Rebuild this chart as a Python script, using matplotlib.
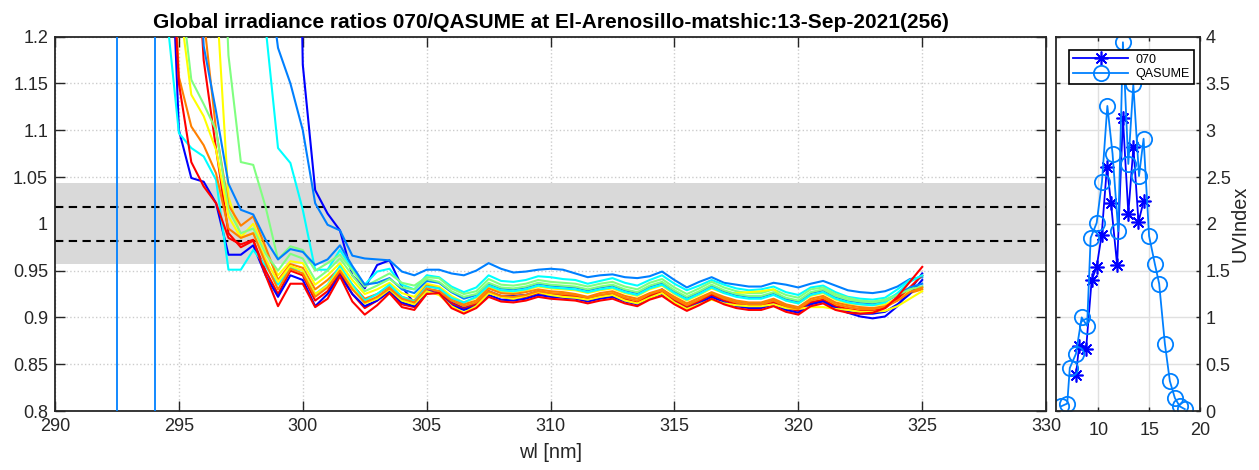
import numpy as np
import matplotlib
matplotlib.use('Agg')
import matplotlib.pyplot as plt

plt.rcParams['font.family'] = ['Liberation Sans', 'DejaVu Sans']

title = 'Global irradiance ratios 070/QASUME at El-Arenosillo-matshic:13-Sep-2021(256)'

# jet(7) colour order, cycled over the 14 ratio spectra
jet7 = ['#0000ff', '#0080ff', '#00ffff', '#80ff80', '#ffff00', '#ff8000', '#ff0000']

# first wavelength of each spectrum, then 0.5 nm steps up to 325 nm
first_wl = [299.5, 298.5, 298.5, 296.5, 296.5, 296.0, 295.5,
            294.5, 295.5, 294.5, 295.0, 295.0, 294.5, 294.5]

ratio_01 = [1.9, 1.17, 1.036, 1.011, 0.993, 0.945,
            0.931, 0.956, 0.961, 0.933, 0.915, 0.930, 0.928, 0.916, 0.910,
            0.915, 0.928, 0.923, 0.923, 0.924, 0.928, 0.925, 0.924, 0.923, 0.920,
            0.923, 0.925, 0.920, 0.914, 0.923, 0.930, 0.920, 0.912, 0.918, 0.926,
            0.920, 0.916, 0.914, 0.914, 0.918, 0.912, 0.909, 0.916, 0.918, 0.911,
            0.905, 0.901, 0.899, 0.901, 0.912, 0.929, 0.947]
ratio_02 = [1.29, 1.188, 1.15, 1.10, 1.022, 0.999, 0.993, 0.966,
            0.963, 0.962, 0.961, 0.949, 0.945, 0.951, 0.951, 0.947, 0.945,
            0.950, 0.958, 0.952, 0.948, 0.949, 0.951, 0.952, 0.951, 0.947, 0.943,
            0.945, 0.946, 0.943, 0.942, 0.944, 0.949, 0.940, 0.932, 0.938, 0.943,
            0.937, 0.935, 0.933, 0.933, 0.937, 0.935, 0.932, 0.936, 0.939, 0.934,
            0.929, 0.927, 0.926, 0.928, 0.933, 0.941, 0.943]
ratio_03 = [1.21, 1.081, 1.065, 1.015, 0.951, 0.951, 0.972, 0.952,
            0.935, 0.949, 0.952, 0.935, 0.930, 0.945, 0.943, 0.933, 0.927,
            0.932, 0.945, 0.939, 0.938, 0.940, 0.944, 0.943, 0.941, 0.940, 0.936,
            0.939, 0.942, 0.937, 0.934, 0.940, 0.945, 0.936, 0.929, 0.934, 0.940,
            0.935, 0.931, 0.929, 0.930, 0.933, 0.927, 0.924, 0.932, 0.934, 0.927,
            0.922, 0.920, 0.919, 0.921, 0.930, 0.940, 0.944]
ratio_04 = [1.5, 1.18, 1.066, 1.063, 1.018, 0.962, 0.976, 0.972, 0.950, 0.958, 0.967, 0.950,
            0.933, 0.940, 0.947, 0.937, 0.934, 0.943, 0.942, 0.931, 0.925,
            0.928, 0.941, 0.935, 0.934, 0.936, 0.940, 0.938, 0.937, 0.936, 0.933,
            0.936, 0.938, 0.933, 0.930, 0.937, 0.941, 0.932, 0.925, 0.931, 0.938,
            0.932, 0.928, 0.926, 0.926, 0.930, 0.924, 0.921, 0.930, 0.932, 0.925,
            0.921, 0.918, 0.917, 0.919, 0.925, 0.931, 0.933]
ratio_05 = [1.25, 1.029, 0.986, 1.0, 0.970, 0.945, 0.960, 0.958, 0.935, 0.945, 0.958, 0.940,
            0.925, 0.930, 0.937, 0.926, 0.922, 0.936, 0.933, 0.923, 0.916,
            0.921, 0.933, 0.928, 0.927, 0.929, 0.933, 0.931, 0.930, 0.929, 0.926,
            0.929, 0.931, 0.926, 0.923, 0.930, 0.934, 0.925, 0.918, 0.924, 0.931,
            0.926, 0.926, 0.927, 0.928, 0.930, 0.918, 0.915, 0.923, 0.926, 0.919,
            0.915, 0.914, 0.913, 0.914, 0.921, 0.929, 0.932]
ratio_06 = [1.22, 1.10, 1.02, 0.998, 1.008, 0.975, 0.94, 0.957, 0.953, 0.93, 0.94, 0.953, 0.935,
            0.920, 0.925, 0.933, 0.922, 0.918, 0.934, 0.931, 0.920, 0.914,
            0.918, 0.931, 0.926, 0.925, 0.927, 0.930, 0.928, 0.927, 0.925, 0.922,
            0.926, 0.928, 0.923, 0.920, 0.926, 0.930, 0.922, 0.915, 0.921, 0.927,
            0.922, 0.918, 0.916, 0.916, 0.920, 0.914, 0.911, 0.920, 0.923, 0.916,
            0.913, 0.911, 0.910, 0.912, 0.918, 0.926, 0.930]
ratio_07 = [1.4, 1.175, 1.08, 0.99, 0.975, 0.982, 0.950, 0.925, 0.950, 0.945, 0.918, 0.928, 0.948, 0.925,
            0.910, 0.918, 0.928, 0.914, 0.911, 0.928, 0.926, 0.915, 0.909,
            0.914, 0.927, 0.922, 0.920, 0.922, 0.926, 0.924, 0.923, 0.922, 0.919,
            0.922, 0.924, 0.919, 0.916, 0.923, 0.927, 0.918, 0.911, 0.917, 0.924,
            0.918, 0.914, 0.912, 0.912, 0.916, 0.910, 0.907, 0.916, 0.919, 0.912,
            0.909, 0.907, 0.907, 0.910, 0.920, 0.932, 0.945]
ratio_08 = [1.43, 1.10, 1.049, 1.045, 1.022, 0.967, 0.967, 0.977, 0.945, 0.922, 0.945, 0.940,
            0.912, 0.925, 0.945, 0.925,
            0.912, 0.918, 0.928, 0.916, 0.912, 0.928, 0.925, 0.913, 0.908,
            0.912, 0.924, 0.919, 0.918, 0.920, 0.924, 0.922, 0.921, 0.920, 0.917,
            0.920, 0.922, 0.917, 0.914, 0.921, 0.925, 0.916, 0.909, 0.915, 0.922,
            0.916, 0.912, 0.910, 0.910, 0.914, 0.908, 0.905, 0.914, 0.917, 0.910,
            0.906, 0.904, 0.904, 0.906, 0.914, 0.925, 0.940]
ratio_09 = [1.45, 1.19, 1.12, 1.043, 1.015, 1.01, 0.983, 0.962, 0.973, 0.970, 0.956, 0.962, 0.977, 0.955,
            0.935, 0.937, 0.942, 0.930, 0.926, 0.939, 0.937, 0.927, 0.920,
            0.924, 0.936, 0.931, 0.930, 0.932, 0.936, 0.934, 0.933, 0.932, 0.929,
            0.932, 0.934, 0.929, 0.926, 0.933, 0.937, 0.928, 0.921, 0.927, 0.934,
            0.928, 0.924, 0.922, 0.922, 0.926, 0.920, 0.917, 0.926, 0.929, 0.922,
            0.918, 0.916, 0.915, 0.917, 0.924, 0.932, 0.936]
ratio_10 = [1.226, 1.097, 1.081, 1.072, 1.047, 0.951, 0.951, 0.972, 0.955, 0.935, 0.953, 0.950,
            0.925, 0.935, 0.955, 0.935,
            0.918, 0.925, 0.935, 0.922, 0.917, 0.933, 0.931, 0.921, 0.916,
            0.922, 0.934, 0.929, 0.928, 0.930, 0.934, 0.932, 0.931, 0.930, 0.927,
            0.930, 0.932, 0.927, 0.924, 0.931, 0.935, 0.926, 0.919, 0.925, 0.932,
            0.926, 0.922, 0.920, 0.920, 0.924, 0.918, 0.915, 0.924, 0.927, 0.920,
            0.916, 0.914, 0.913, 0.916, 0.926, 0.938, 0.945]
ratio_11 = [1.269, 1.154, 1.128, 1.10, 1.015, 0.99, 0.995, 0.968, 0.950, 0.968, 0.963, 0.940,
            0.950, 0.963, 0.945,
            0.928, 0.934, 0.941, 0.932, 0.930, 0.941, 0.938, 0.928, 0.922,
            0.925, 0.937, 0.932, 0.931, 0.933, 0.937, 0.935, 0.934, 0.933, 0.930,
            0.933, 0.935, 0.930, 0.927, 0.934, 0.938, 0.929, 0.922, 0.928, 0.935,
            0.929, 0.925, 0.923, 0.923, 0.927, 0.921, 0.918, 0.927, 0.930, 0.923,
            0.919, 0.917, 0.916, 0.918, 0.924, 0.930, 0.933]
ratio_12 = [1.241, 1.138, 1.115, 1.079, 1.008, 0.985, 0.990, 0.962, 0.938, 0.955, 0.950, 0.925,
            0.934, 0.952, 0.932,
            0.915, 0.920, 0.930, 0.918, 0.914, 0.928, 0.924, 0.912, 0.905,
            0.912, 0.926, 0.922, 0.920, 0.923, 0.927, 0.924, 0.922, 0.921, 0.919,
            0.922, 0.924, 0.918, 0.915, 0.921, 0.926, 0.916, 0.909, 0.914, 0.919,
            0.915, 0.913, 0.912, 0.912, 0.914, 0.910, 0.909, 0.911, 0.911, 0.909,
            0.908, 0.906, 0.906, 0.907, 0.912, 0.920, 0.928]
ratio_13 = [1.45, 1.157, 1.104, 1.084, 1.054, 0.995, 0.985, 0.99, 0.958, 0.930, 0.952, 0.947,
            0.922, 0.932, 0.950, 0.930,
            0.916, 0.922, 0.931, 0.920, 0.916, 0.931, 0.928, 0.918, 0.912,
            0.916, 0.928, 0.923, 0.922, 0.924, 0.928, 0.926, 0.925, 0.924, 0.921,
            0.924, 0.926, 0.921, 0.918, 0.925, 0.929, 0.920, 0.913, 0.919, 0.926,
            0.920, 0.916, 0.914, 0.914, 0.918, 0.912, 0.909, 0.918, 0.921, 0.914,
            0.911, 0.909, 0.909, 0.911, 0.918, 0.927, 0.932]
ratio_14 = [1.40, 1.15, 1.066, 1.040, 1.022, 0.985, 0.978, 0.983, 0.945, 0.912, 0.936, 0.936,
            0.911, 0.920, 0.944, 0.917,
            0.903, 0.913, 0.926, 0.911, 0.908, 0.925, 0.926, 0.910, 0.904,
            0.910, 0.922, 0.917, 0.916, 0.918, 0.922, 0.920, 0.919, 0.918, 0.915,
            0.918, 0.920, 0.915, 0.912, 0.919, 0.923, 0.914, 0.907, 0.913, 0.920,
            0.914, 0.910, 0.908, 0.908, 0.912, 0.906, 0.903, 0.912, 0.915, 0.908,
            0.905, 0.904, 0.905, 0.910, 0.922, 0.938, 0.954]

ratios = [ratio_01, ratio_02, ratio_03, ratio_04, ratio_05, ratio_06, ratio_07,
          ratio_08, ratio_09, ratio_10, ratio_11, ratio_12, ratio_13, ratio_14]

band = [0.957, 1.044]          # grey tolerance band
limits = [1.018, 0.982]        # dashed lines
cut_wl = [292.5, 294.05]       # vertical cut-off lines

# UV index time series (hours)
t_070 = [7.80, 8.12, 8.80, 9.35, 9.84, 10.33, 10.85, 11.25, 11.85, 12.42, 12.95, 13.45, 13.95, 14.45]
uvi_070 = [0.38, 0.70, 0.66, 1.40, 1.54, 1.88, 2.61, 2.22, 1.56, 3.13, 2.11, 2.82, 2.02, 2.24]
t_qasume = [6.35, 6.95, 7.20, 7.80, 8.37, 8.90, 9.25, 9.84, 10.36, 10.89, 11.40, 11.96, 12.42,
            12.95, 13.44, 14.00, 14.45, 14.99, 15.56, 15.98, 16.54, 17.03, 17.52, 18.00, 18.50]
uvi_qasume = [0.05, 0.08, 0.46, 0.61, 1.00, 0.91, 1.85, 2.01, 2.45, 3.26, 2.75, 1.92, 3.94,
              2.64, 3.49, 2.51, 2.91, 1.87, 1.57, 1.36, 0.72, 0.32, 0.14, 0.05, 0.02]

dark = '#262626'

fig = plt.figure(figsize=(12.59, 4.70), dpi=100)
ax = fig.add_axes([0.0437, 0.1255, 0.7872, 0.7965])
ax2 = fig.add_axes([0.8388, 0.1255, 0.1144, 0.7965])

# left panel: ratio spectra
ax.set_axisbelow(True)
ax.axhspan(band[0], band[1], color='#d9d9d9', lw=0, zorder=1)
for v in limits:
    ax.axhline(v, color='k', ls=(0, (4, 2.6)), lw=1.5, zorder=2)
for v in cut_wl:
    ax.axvline(v, color='#0080ff', lw=1.3, zorder=3)
for i in range(len(ratios)):
    wl = first_wl[i] + 0.5 * np.arange(len(ratios[i]))
    ax.plot(wl, ratios[i], color=jet7[i % 7], lw=1.5, zorder=4)

ax.set_xlim(290, 330)
ax.set_ylim(0.8, 1.2)
xt = np.arange(290, 331, 5)
yt = np.arange(0.8, 1.2001, 0.05)
ax.set_xticks(xt)
ax.set_yticks(yt)
ax.set_yticklabels(['%g' % round(v, 2) for v in yt])
ax.grid(True, ls=':', color='#cccccc', lw=1)
ax.tick_params(direction='in', length=7, width=1, top=True, right=True,
               labelsize=13, colors=dark, pad=5)
for sp in ax.spines.values():
    sp.set_color(dark)
    sp.set_linewidth(1.3)
ax.set_xlabel('wl [nm]', fontsize=14.3, color=dark, labelpad=6)
ax.set_title(title, fontsize=15, fontweight='bold', pad=6)

# right panel: UV index
ax2.set_axisbelow(True)
ax2.plot(t_070, uvi_070, color='#0000ff', marker=(8, 2, 0), ms=10, mew=1.2, lw=1.3, label='070')
ax2.plot(t_qasume, uvi_qasume, color='#0080ff', marker='o', ms=11, mfc='none', mew=1.3,
         lw=1.3, label='QASUME')
ax2.set_xlim(5.85, 20)
ax2.set_ylim(0, 4)
ax2.set_xticks([10, 15, 20])
ut = np.arange(0, 4.01, 0.5)
ax2.set_yticks(ut)
ax2.set_yticklabels(['%g' % v for v in ut])
ax2.yaxis.tick_right()
ax2.yaxis.set_label_position('right')
ax2.grid(True, color='#e0e0e0', lw=1)
ax2.tick_params(direction='in', length=3, width=1, top=True, left=True, right=True,
                labelsize=13, colors=dark, pad=4)
ax2.tick_params(axis='x', pad=8)
for sp in ax2.spines.values():
    sp.set_color(dark)
    sp.set_linewidth(1.3)
ax2.set_ylabel('UVIndex', fontsize=14.3, color=dark, labelpad=0)
leg = ax2.legend(loc='upper right', bbox_to_anchor=(0.955, 0.965), borderaxespad=0,
                 fontsize=9, handlelength=4.4, numpoints=1, fancybox=False,
                 framealpha=1, edgecolor='k', borderpad=0.3, labelspacing=0.2,
                 handletextpad=0.6)
leg.get_frame().set_linewidth(1.2)

fig.savefig('out.png', dpi=100)
